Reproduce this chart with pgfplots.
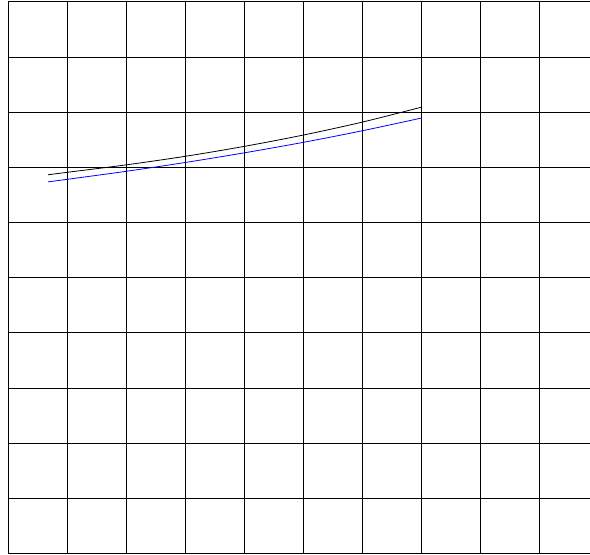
\documentclass[border=0pt]{standalone}
\usepackage{pgfplots}
\pgfplotsset{compat=1.18}
\begin{document}
\begin{tikzpicture}[x=1bp,y=1bp]
\useasboundingbox (-8.3,-1.7) rectangle (581.7,553.3);
\begin{axis}[
  at={(0,0)}, anchor=south west,
  scale only axis,
  width=590bp, height=551.6bp,
  xmin=0, xmax=10, ymin=0, ymax=10,
  xtick={0,1,...,10}, ytick={0,1,...,10},
  xticklabels={}, yticklabels={},
  major tick length=0pt,
  grid=major,
  grid style={black, line width=0.6pt},
  axis line style={black, line width=0.6pt},
]
\addplot[black, line width=0.8pt, smooth] coordinates {
(0.673,6.862) (1,6.907) (2,7.042) (3,7.197) (4,7.377) (5,7.582) (6,7.817) (7,8.087)};
\addplot[blue, line width=0.8pt, smooth] coordinates {
(0.673,6.733) (1,6.780) (2,6.925) (3,7.085) (4,7.260) (5,7.450) (6,7.660) (7,7.890)};
\end{axis}
\end{tikzpicture}
\end{document}
